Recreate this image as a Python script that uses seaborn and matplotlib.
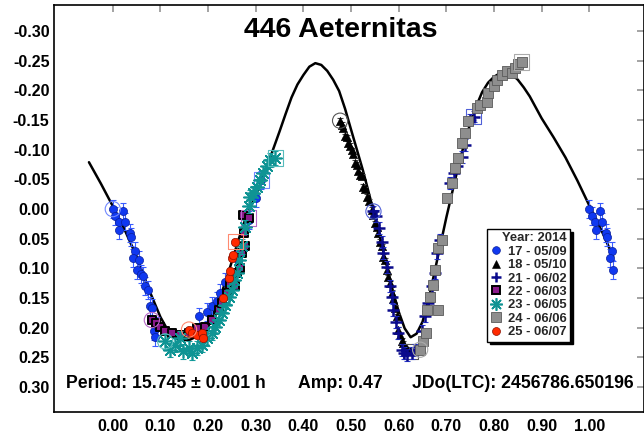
import matplotlib
matplotlib.use("Agg")
import matplotlib.pyplot as plt
from matplotlib.lines import Line2D
import numpy as np
import pandas as pd
import seaborn as sns

# ---------------------------------------------------------------- text
TITLE = "446 Aeternitas"
PERIOD_TEXT = "Period: 15.745 \u00b1 0.001 h"
AMP_TEXT = "Amp: 0.47"
JD_TEXT = "JDo(LTC): 2456786.650196"
LEGEND_TITLE = "Year: 2014"

x_ticks = [0.00, 0.10, 0.20, 0.30, 0.40, 0.50, 0.60, 0.70, 0.80, 0.90, 1.00]
y_ticks = [-0.30, -0.25, -0.20, -0.15, -0.10, -0.05, 0.00, 0.05, 0.10, 0.15, 0.20, 0.25, 0.30]

# ---------------------------------------------------------------- Fourier fit (phase, magnitude)
fit_phase = [-0.050, -0.025, 0.000, 0.025, 0.050, 0.075, 0.100, 0.1125, 0.125, 0.1375,
             0.150, 0.1625, 0.175, 0.1875, 0.200, 0.2125, 0.225, 0.2375, 0.250, 0.2625,
             0.275, 0.2875, 0.300, 0.3125, 0.325, 0.3375, 0.350, 0.3625, 0.375, 0.3875,
             0.400, 0.4125, 0.425, 0.4375, 0.450, 0.4625, 0.475, 0.4875, 0.500,
             0.525, 0.550, 0.575, 0.5875, 0.600, 0.6125, 0.625, 0.6375, 0.650, 0.6625, 0.675,
             0.700, 0.725, 0.7375, 0.750, 0.7625, 0.775, 0.7875, 0.800, 0.8125, 0.825,
             0.8375, 0.850, 0.8625, 0.875, 0.900, 0.925, 0.950, 0.975, 1.000, 1.025, 1.050]
fit_mag = [-0.079, -0.043, -0.005, 0.035, 0.080, 0.134, 0.182, 0.200, 0.211, 0.218,
           0.221, 0.220, 0.215, 0.206, 0.192, 0.173, 0.149, 0.120, 0.088, 0.055,
           0.024, -0.001, -0.023, -0.048, -0.075, -0.103, -0.131, -0.160, -0.188, -0.210,
           -0.226, -0.240, -0.246, -0.243, -0.233, -0.218, -0.199, -0.169, -0.134,
           -0.065, 0.012, 0.096, 0.137, 0.173, 0.201, 0.216, 0.210, 0.190, 0.153, 0.107,
           0.014, -0.072, -0.110, -0.144, -0.173, -0.197, -0.213, -0.223, -0.229, -0.230,
           -0.227, -0.218, -0.205, -0.190, -0.153, -0.121, -0.087, -0.048, -0.006, 0.035, 0.080]

# ---------------------------------------------------------------- observing sessions
session_labels = ["17 - 05/09", "18 - 05/10", "21 - 06/02", "22 - 06/03",
                  "23 - 06/05", "24 - 06/06", "25 - 06/07"]

phase_17 = [0.000, 0.005, 0.012, 0.022, 0.026, 0.013, 0.036, 0.038, 0.047, 0.043,
            0.054, 0.050, 0.059, 0.064, 0.068, 0.073, 0.078, 0.082, 0.087, 0.089,
            0.092, 0.180, 0.197, 0.208, 0.218, 0.225, 0.236, 0.262, 0.285, 0.300, 0.312]
mag_17 = [0.000, 0.012, 0.021, 0.004, 0.021, 0.036, 0.040, 0.047, 0.070, 0.082,
          0.085, 0.103, 0.110, 0.113, 0.130, 0.136, 0.164, 0.167, 0.206, 0.215,
          0.197, 0.181, 0.173, 0.164, 0.155, 0.142, 0.123, 0.086, 0.019, -0.019, -0.049]

phase_18 = [0.477, 0.480, 0.484, 0.487, 0.491, 0.494, 0.498, 0.501, 0.505, 0.508,
            0.512, 0.515, 0.519, 0.522, 0.526, 0.529, 0.533, 0.538, 0.543, 0.547,
            0.550, 0.554, 0.557, 0.561, 0.564, 0.568, 0.571, 0.575, 0.578, 0.582,
            0.586, 0.589, 0.593, 0.596, 0.599, 0.603, 0.606, 0.610, 0.613, 0.618, 0.624]
mag_18 = [-0.149, -0.142, -0.136, -0.123, -0.121, -0.111, -0.107, -0.099, -0.093, -0.078,
          -0.075, -0.065, -0.058, -0.055, -0.038, -0.034, -0.021, -0.013, 0.001, 0.010,
          0.024, 0.030, 0.040, 0.055, 0.063, 0.080, 0.086, 0.103, 0.115, 0.125,
          0.141, 0.152, 0.166, 0.181, 0.203, 0.213, 0.222, 0.226, 0.232, 0.236, 0.240]

phase_21 = [0.547, 0.552, 0.559, 0.564, 0.568, 0.575, 0.582, 0.585, 0.589, 0.594,
            0.599, 0.606, 0.611, 0.617, 0.627, 0.634, 0.648, 0.655, 0.662, 0.669,
            0.676, 0.680, 0.687, 0.708, 0.715, 0.722, 0.732, 0.739, 0.750, 0.757]
mag_21 = [0.004, 0.012, 0.032, 0.055, 0.074, 0.097, 0.130, 0.148, 0.170, 0.190,
          0.209, 0.237, 0.242, 0.246, 0.243, 0.237, 0.206, 0.181, 0.158, 0.130,
          0.108, 0.074, 0.052, -0.044, -0.060, -0.072, -0.088, -0.108, -0.151, -0.156]

phase_22 = [0.082, 0.090, 0.099, 0.110, 0.124, 0.140, 0.159, 0.176, 0.194, 0.208,
            0.222, 0.229, 0.239, 0.246, 0.257, 0.260, 0.267, 0.271, 0.278, 0.275,
            0.274, 0.285]
mag_22 = [0.187, 0.192, 0.198, 0.206, 0.209, 0.213, 0.209, 0.201, 0.198, 0.187,
          0.170, 0.158, 0.142, 0.128, 0.130, 0.108, 0.100, 0.074, 0.063, 0.040,
          0.010, 0.015]

phase_23 = [0.110, 0.120, 0.131, 0.141, 0.148, 0.159, 0.166, 0.176, 0.187, 0.197,
            0.208, 0.215, 0.222, 0.229, 0.236, 0.243, 0.250, 0.255, 0.260, 0.264,
            0.271, 0.278, 0.285, 0.288, 0.295, 0.302, 0.309, 0.316, 0.323, 0.330, 0.341]
mag_23 = [0.223, 0.237, 0.229, 0.218, 0.240, 0.234, 0.243, 0.234, 0.229, 0.218,
          0.209, 0.198, 0.187, 0.175, 0.161, 0.148, 0.136, 0.120, 0.108, 0.085,
          0.063, 0.030, -0.005, -0.021, -0.027, -0.038, -0.049, -0.060, -0.072, -0.083, -0.086]

phase_24 = [0.645, 0.652, 0.657, 0.660, 0.666, 0.673, 0.676, 0.683, 0.683, 0.690,
            0.701, 0.711, 0.718, 0.725, 0.732, 0.739, 0.746, 0.764, 0.771, 0.785,
            0.788, 0.799, 0.806, 0.816, 0.827, 0.837, 0.844, 0.851, 0.858]
mag_24 = [0.237, 0.223, 0.209, 0.170, 0.148, 0.128, 0.103, 0.170, 0.066, 0.052,
          -0.018, -0.044, -0.069, -0.086, -0.111, -0.129, -0.148, -0.171, -0.175, -0.181,
          -0.196, -0.207, -0.218, -0.226, -0.232, -0.229, -0.238, -0.244, -0.248]

phase_25 = [0.160, 0.166, 0.176, 0.187, 0.190, 0.232, 0.243, 0.246, 0.250, 0.253, 0.257]
mag_25 = [0.203, 0.209, 0.212, 0.209, 0.218, 0.150, 0.116, 0.105, 0.082, 0.077, 0.055]

mag_error = [0.015, 0.004, 0.010, 0.005, 0.012, 0.005, 0.005]

session_phases = [phase_17, phase_18, phase_21, phase_22, phase_23, phase_24, phase_25]
session_mags = [mag_17, mag_18, mag_21, mag_22, mag_23, mag_24, mag_25]

# ---------------------------------------------------------------- marker styles per session
styles = [
    dict(marker="o", s=34, color="#1038f0", edgecolor="#0a1f9a", linewidth=0.5,
         ecolor="#3a5cff", ring="#7088ff"),
    dict(marker="^", s=36, color="black", edgecolor="black", linewidth=0.4,
         ecolor="#444444", ring="#555555"),
    dict(marker="+", s=66, color="#0a0a8c", linewidth=1.8,
         ecolor="#2a3ad0", ring="#5060d8"),
    dict(marker="s", s=34, color="#8a1a8a", edgecolor="black", linewidth=1.4,
         ecolor="#7a2a9a", ring="#b868c8"),
    dict(marker=(8, 2, 0), s=90, color="#0f9494", linewidth=1.2,
         ecolor="#1aa0a0", ring="#58bcbc"),
    dict(marker="s", s=50, color="#8e8e8e", edgecolor="#5a5a5a", linewidth=0.6,
         ecolor="#777777", ring="#ababab"),
    dict(marker="o", s=36, color="#ff2a00", edgecolor="#8a1000", linewidth=0.5,
         ecolor="#ff5a3a", ring="#ff8a70"),
]

WRAP_LIMIT = 0.05   # early phases are repeated after 1.0

sns.set_theme(style="white")
plt.rcParams["font.family"] = ["Liberation Sans", "DejaVu Sans"]
plt.rcParams["font.weight"] = "bold"

fig = plt.figure(figsize=(6.44, 4.34), dpi=100)
ax = fig.add_axes([53.7 / 644, 1 - 412 / 434, (643.5 - 53.7) / 644, (412 - 5) / 434])

# fitted lightcurve
sns.lineplot(x=fit_phase, y=fit_mag, sort=False, color="black", linewidth=1.8,
             ax=ax, zorder=2, solid_joinstyle="round", solid_capstyle="round")

for i, (ph, mg, st) in enumerate(zip(session_phases, session_mags, styles)):
    df = pd.DataFrame({"phase": ph, "mag": mg})
    if i == 0:
        extra = df[df["phase"] <= WRAP_LIMIT].assign(phase=lambda d: d["phase"] + 1.0)
        df_all = pd.concat([df, extra], ignore_index=True)
    else:
        df_all = df
    z = 3 + i * 0.1
    ax.errorbar(df_all["phase"], df_all["mag"], yerr=mag_error[i], fmt="none",
                ecolor=st["ecolor"], elinewidth=0.8, capsize=2.2, capthick=0.8,
                zorder=z)
    kws = dict(marker=st["marker"], s=st["s"], color=st["color"],
               linewidth=st["linewidth"])
    if "edgecolor" in st:
        kws["edgecolor"] = st["edgecolor"]
    sns.scatterplot(data=df_all, x="phase", y="mag", ax=ax, legend=False,
                    zorder=z + 0.05, **kws)
    # open ring on the first point and open square on the last point of the night
    ax.scatter([ph[0]], [mg[0]], marker="o", s=120, facecolor="none",
               edgecolor=st["ring"], linewidth=0.8, zorder=z + 0.06)
    ax.scatter([ph[-1]], [mg[-1]], marker="s", s=120, facecolor="none",
               edgecolor=st["ring"], linewidth=0.8, zorder=z + 0.06)

# axes, ticks
ax.set_xlim(-0.124, (643.5 - 112.7) / 476.6)
ax.set_ylim(0.342, -0.344)
ax.set_xticks(x_ticks)
ax.set_yticks(y_ticks)
ax.set_xticklabels([f"{v:.2f}" for v in x_ticks])
ax.set_yticklabels([f"{v:.2f}" for v in y_ticks])
ax.set_xlabel("")
ax.set_ylabel("")
ax.tick_params(axis="both", direction="in", length=5, width=1.1, color="#8a8a8a",
               labelsize=11.5, labelcolor="black", top=True, right=True)
ax.tick_params(axis="y", pad=3)
ax.tick_params(axis="x", pad=5)
for t in ax.xaxis.get_major_ticks():
    t.tick2line.set_color("#222222")
for sp in ax.spines.values():
    sp.set_visible(True)
    sp.set_color("black")
    sp.set_linewidth(1.2)
for lab in ax.get_xticklabels() + ax.get_yticklabels():
    lab.set_fontweight("bold")

# title and fit summary
fig.text(340.3 / 644, 1 - 36.7 / 434, TITLE, ha="center", va="baseline",
         fontsize=20.5, fontweight="bold", color="black")
base = 1 - 388 / 434
for xpix, txt in [(66.5, PERIOD_TEXT), (298, AMP_TEXT), (412, JD_TEXT)]:
    fig.text(xpix / 644, base, txt, ha="left", va="baseline",
             fontsize=12.7, fontweight="bold", color="black")

# legend
handles = []
for st in styles:
    h = Line2D([], [], linestyle="none", marker=st["marker"],
               markersize=np.sqrt(st["s"]) * 0.95,
               markerfacecolor=st["color"],
               markeredgecolor=st.get("edgecolor", st["color"]),
               markeredgewidth=st["linewidth"])
    handles.append(h)
leg = ax.legend(handles, session_labels, title=LEGEND_TITLE, loc="upper left",
                bbox_to_anchor=(487.3 / 644, 1 - 229 / 434),
                bbox_transform=fig.transFigure, borderaxespad=0,
                frameon=True, fancybox=False, framealpha=1, edgecolor="black",
                shadow={"color": "black", "alpha": 1},
                prop={"weight": "bold", "size": 9.4},
                title_fontproperties={"weight": "bold", "size": 9.4},
                handlelength=0.9, handletextpad=0.45, labelspacing=0.1,
                borderpad=0.25, alignment="right")
leg.get_frame().set_linewidth(1.0)
leg.set_zorder(10)

fig.savefig("out.png", dpi=100, facecolor="white")
